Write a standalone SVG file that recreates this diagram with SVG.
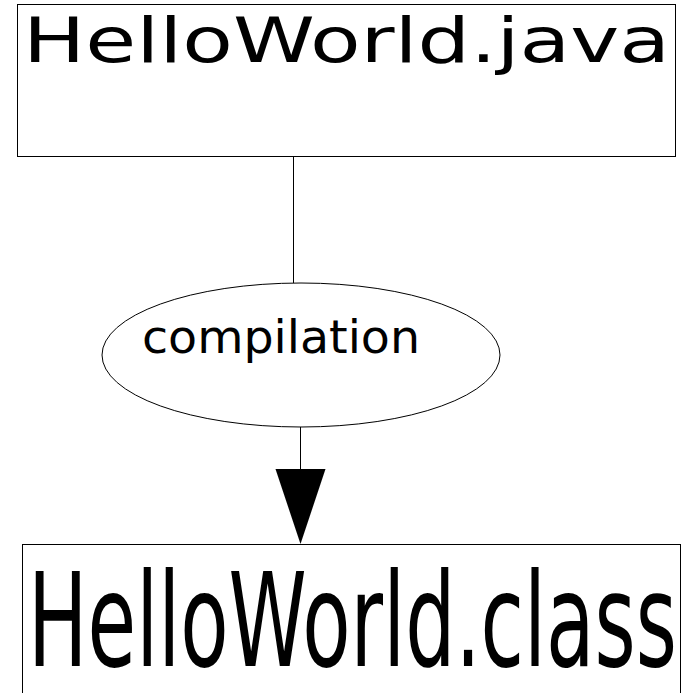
<svg xmlns="http://www.w3.org/2000/svg" width="683" height="693" viewBox="0 0 683 693">
<style>
.box{fill:#fff;stroke:#000;stroke-width:1}
.t{font-family:"DejaVu Sans",sans-serif;fill:#000}
.edge{stroke:#000;stroke-width:1;fill:none}
</style>
<rect width="683" height="693" fill="#fff"/>
<g id="java">
<rect class="box" x="17.5" y="4.5" width="658" height="152"/>
<text class="t" x="23" y="62" font-size="63" textLength="647" lengthAdjust="spacingAndGlyphs">HelloWorld.java</text>
</g>
<g id="compilation">
<ellipse class="box" cx="301" cy="355" rx="199" ry="72"/>
<text class="t" x="142" y="353" font-size="47" textLength="278" lengthAdjust="spacingAndGlyphs">compilation</text>
</g>
<g id="class">
<rect class="box" x="22.5" y="544.5" width="658" height="160"/>
<text class="t" x="28" y="666" font-size="130" textLength="649" lengthAdjust="spacingAndGlyphs">HelloWorld.class</text>
</g>
<g id="connectors">
<line class="edge" x1="293.5" y1="157" x2="293.5" y2="283"/>
<line class="edge" x1="300.5" y1="427" x2="300.5" y2="470"/>
<polygon points="275.5,469 325.5,469 300.5,544" fill="#000"/>
</g>
</svg>
